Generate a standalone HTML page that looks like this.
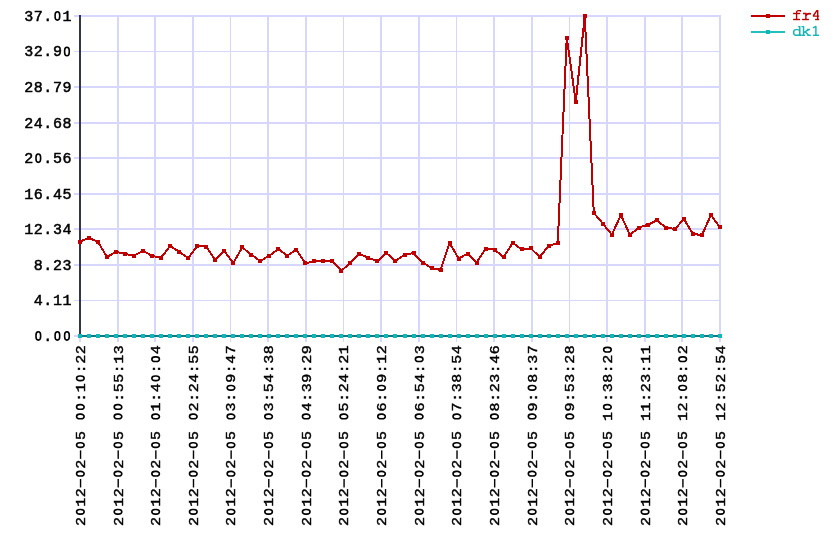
<!DOCTYPE html>
<html><head><meta charset="utf-8"><title>chart</title>
<style>
html,body{margin:0;padding:0;background:#fff;}
body{width:840px;height:560px;overflow:hidden;}
svg{display:block;}
text{font-family:"Liberation Mono",monospace;}
</style></head><body>
<div style="will-change:transform;width:840px;height:560px">
<svg width="840" height="560" viewBox="0 0 840 560">
<rect width="840" height="560" fill="#ffffff"/>
<g shape-rendering="crispEdges" fill="#d6d6ff">
<rect x="79" y="15" width="2" height="327"/>
<rect x="117" y="15" width="2" height="327"/>
<rect x="154" y="15" width="2" height="327"/>
<rect x="192" y="15" width="2" height="327"/>
<rect x="230" y="15" width="1" height="327"/>
<rect x="267" y="15" width="2" height="327"/>
<rect x="305" y="15" width="2" height="327"/>
<rect x="343" y="15" width="1" height="327"/>
<rect x="380" y="15" width="2" height="327"/>
<rect x="418" y="15" width="2" height="327"/>
<rect x="456" y="15" width="1" height="327"/>
<rect x="493" y="15" width="2" height="327"/>
<rect x="531" y="15" width="2" height="327"/>
<rect x="569" y="15" width="1" height="327"/>
<rect x="606" y="15" width="2" height="327"/>
<rect x="644" y="15" width="2" height="327"/>
<rect x="681" y="15" width="2" height="327"/>
<rect x="719" y="15" width="2" height="327"/>
<rect x="74" y="335" width="647" height="2"/>
<rect x="74" y="300" width="647" height="1"/>
<rect x="74" y="264" width="647" height="2"/>
<rect x="74" y="228" width="647" height="2"/>
<rect x="74" y="193" width="647" height="2"/>
<rect x="74" y="157" width="647" height="2"/>
<rect x="74" y="122" width="647" height="2"/>
<rect x="74" y="86" width="647" height="2"/>
<rect x="74" y="51" width="647" height="1"/>
<rect x="74" y="15" width="647" height="2"/>
</g>
<g shape-rendering="crispEdges" fill="#35354a">
<rect x="79" y="15" width="2" height="322"/>
<rect x="79" y="335" width="642" height="2"/>
</g>
<g font-size="15" fill="#000" stroke="#000" stroke-width="0.5">
<text transform="translate(0,340.85) scale(1,0.95)" x="33.81 43.35 52.89 62.43" y="0"> .  </text><rect x="36.01" y="331.75" width="4.60" height="8.40" rx="2.30" ry="3.30" fill="none" stroke="#000" stroke-width="1.6"/><rect x="55.09" y="331.75" width="4.60" height="8.40" rx="2.30" ry="3.30" fill="none" stroke="#000" stroke-width="1.6"/><rect x="64.63" y="331.75" width="4.60" height="8.40" rx="2.30" ry="3.30" fill="none" stroke="#000" stroke-width="1.6"/>
<text transform="translate(0,305.29) scale(1,0.95)" x="33.81 43.35 52.89 62.43" y="0">4.11</text>
<text transform="translate(0,269.74) scale(1,0.95)" x="33.81 43.35 52.89 62.43" y="0">8.23</text>
<text transform="translate(0,234.18) scale(1,0.95)" x="24.27 33.81 43.35 52.89 62.43" y="0">12.34</text>
<text transform="translate(0,198.63) scale(1,0.95)" x="24.27 33.81 43.35 52.89 62.43" y="0">16.45</text>
<text transform="translate(0,163.07) scale(1,0.95)" x="24.27 33.81 43.35 52.89 62.43" y="0">2 .56</text><rect x="36.01" y="153.97" width="4.60" height="8.40" rx="2.30" ry="3.30" fill="none" stroke="#000" stroke-width="1.6"/>
<text transform="translate(0,127.52) scale(1,0.95)" x="24.27 33.81 43.35 52.89 62.43" y="0">24.68</text>
<text transform="translate(0,91.96) scale(1,0.95)" x="24.27 33.81 43.35 52.89 62.43" y="0">28.79</text>
<text transform="translate(0,56.41) scale(1,0.95)" x="24.27 33.81 43.35 52.89 62.43" y="0">32.9 </text><rect x="64.63" y="47.31" width="4.60" height="8.40" rx="2.30" ry="3.30" fill="none" stroke="#000" stroke-width="1.6"/>
<text transform="translate(0,20.85) scale(1,0.95)" x="24.27 33.81 43.35 52.89 62.43" y="0">37. 1</text><rect x="55.09" y="11.75" width="4.60" height="8.40" rx="2.30" ry="3.30" fill="none" stroke="#000" stroke-width="1.6"/>
</g>
<g font-size="15" fill="#000" stroke="#000" stroke-width="0.5">
<g transform="translate(84.85,344.6) rotate(-90)"><text transform="scale(1,0.88)" x="-181.29 -171.75 -162.21 -152.67 -143.13 -133.59 -124.05 -114.51 -104.97 -95.43 -85.89 -76.35 -66.81 -57.27 -47.73 -38.19 -28.65 -19.11 -9.57" y="0">2 12  2  5   :1 :22</text><rect x="-169.55" y="-8.30" width="4.60" height="7.60" rx="2.30" ry="3.30" fill="none" stroke="#000" stroke-width="1.6"/><rect x="-142.88" y="-5.0" width="8.5" height="1.4" stroke="none"/><rect x="-131.39" y="-8.30" width="4.60" height="7.60" rx="2.30" ry="3.30" fill="none" stroke="#000" stroke-width="1.6"/><rect x="-114.26" y="-5.0" width="8.5" height="1.4" stroke="none"/><rect x="-102.77" y="-8.30" width="4.60" height="7.60" rx="2.30" ry="3.30" fill="none" stroke="#000" stroke-width="1.6"/><rect x="-74.15" y="-8.30" width="4.60" height="7.60" rx="2.30" ry="3.30" fill="none" stroke="#000" stroke-width="1.6"/><rect x="-64.61" y="-8.30" width="4.60" height="7.60" rx="2.30" ry="3.30" fill="none" stroke="#000" stroke-width="1.6"/><rect x="-35.99" y="-8.30" width="4.60" height="7.60" rx="2.30" ry="3.30" fill="none" stroke="#000" stroke-width="1.6"/></g>
<g transform="translate(122.50,344.6) rotate(-90)"><text transform="scale(1,0.88)" x="-181.29 -171.75 -162.21 -152.67 -143.13 -133.59 -124.05 -114.51 -104.97 -95.43 -85.89 -76.35 -66.81 -57.27 -47.73 -38.19 -28.65 -19.11 -9.57" y="0">2 12  2  5   :55:13</text><rect x="-169.55" y="-8.30" width="4.60" height="7.60" rx="2.30" ry="3.30" fill="none" stroke="#000" stroke-width="1.6"/><rect x="-142.88" y="-5.0" width="8.5" height="1.4" stroke="none"/><rect x="-131.39" y="-8.30" width="4.60" height="7.60" rx="2.30" ry="3.30" fill="none" stroke="#000" stroke-width="1.6"/><rect x="-114.26" y="-5.0" width="8.5" height="1.4" stroke="none"/><rect x="-102.77" y="-8.30" width="4.60" height="7.60" rx="2.30" ry="3.30" fill="none" stroke="#000" stroke-width="1.6"/><rect x="-74.15" y="-8.30" width="4.60" height="7.60" rx="2.30" ry="3.30" fill="none" stroke="#000" stroke-width="1.6"/><rect x="-64.61" y="-8.30" width="4.60" height="7.60" rx="2.30" ry="3.30" fill="none" stroke="#000" stroke-width="1.6"/></g>
<g transform="translate(160.14,344.6) rotate(-90)"><text transform="scale(1,0.88)" x="-181.29 -171.75 -162.21 -152.67 -143.13 -133.59 -124.05 -114.51 -104.97 -95.43 -85.89 -76.35 -66.81 -57.27 -47.73 -38.19 -28.65 -19.11 -9.57" y="0">2 12  2  5  1:4 : 4</text><rect x="-169.55" y="-8.30" width="4.60" height="7.60" rx="2.30" ry="3.30" fill="none" stroke="#000" stroke-width="1.6"/><rect x="-142.88" y="-5.0" width="8.5" height="1.4" stroke="none"/><rect x="-131.39" y="-8.30" width="4.60" height="7.60" rx="2.30" ry="3.30" fill="none" stroke="#000" stroke-width="1.6"/><rect x="-114.26" y="-5.0" width="8.5" height="1.4" stroke="none"/><rect x="-102.77" y="-8.30" width="4.60" height="7.60" rx="2.30" ry="3.30" fill="none" stroke="#000" stroke-width="1.6"/><rect x="-74.15" y="-8.30" width="4.60" height="7.60" rx="2.30" ry="3.30" fill="none" stroke="#000" stroke-width="1.6"/><rect x="-35.99" y="-8.30" width="4.60" height="7.60" rx="2.30" ry="3.30" fill="none" stroke="#000" stroke-width="1.6"/><rect x="-16.91" y="-8.30" width="4.60" height="7.60" rx="2.30" ry="3.30" fill="none" stroke="#000" stroke-width="1.6"/></g>
<g transform="translate(197.79,344.6) rotate(-90)"><text transform="scale(1,0.88)" x="-181.29 -171.75 -162.21 -152.67 -143.13 -133.59 -124.05 -114.51 -104.97 -95.43 -85.89 -76.35 -66.81 -57.27 -47.73 -38.19 -28.65 -19.11 -9.57" y="0">2 12  2  5  2:24:55</text><rect x="-169.55" y="-8.30" width="4.60" height="7.60" rx="2.30" ry="3.30" fill="none" stroke="#000" stroke-width="1.6"/><rect x="-142.88" y="-5.0" width="8.5" height="1.4" stroke="none"/><rect x="-131.39" y="-8.30" width="4.60" height="7.60" rx="2.30" ry="3.30" fill="none" stroke="#000" stroke-width="1.6"/><rect x="-114.26" y="-5.0" width="8.5" height="1.4" stroke="none"/><rect x="-102.77" y="-8.30" width="4.60" height="7.60" rx="2.30" ry="3.30" fill="none" stroke="#000" stroke-width="1.6"/><rect x="-74.15" y="-8.30" width="4.60" height="7.60" rx="2.30" ry="3.30" fill="none" stroke="#000" stroke-width="1.6"/></g>
<g transform="translate(235.44,344.6) rotate(-90)"><text transform="scale(1,0.88)" x="-181.29 -171.75 -162.21 -152.67 -143.13 -133.59 -124.05 -114.51 -104.97 -95.43 -85.89 -76.35 -66.81 -57.27 -47.73 -38.19 -28.65 -19.11 -9.57" y="0">2 12  2  5  3: 9:47</text><rect x="-169.55" y="-8.30" width="4.60" height="7.60" rx="2.30" ry="3.30" fill="none" stroke="#000" stroke-width="1.6"/><rect x="-142.88" y="-5.0" width="8.5" height="1.4" stroke="none"/><rect x="-131.39" y="-8.30" width="4.60" height="7.60" rx="2.30" ry="3.30" fill="none" stroke="#000" stroke-width="1.6"/><rect x="-114.26" y="-5.0" width="8.5" height="1.4" stroke="none"/><rect x="-102.77" y="-8.30" width="4.60" height="7.60" rx="2.30" ry="3.30" fill="none" stroke="#000" stroke-width="1.6"/><rect x="-74.15" y="-8.30" width="4.60" height="7.60" rx="2.30" ry="3.30" fill="none" stroke="#000" stroke-width="1.6"/><rect x="-45.53" y="-8.30" width="4.60" height="7.60" rx="2.30" ry="3.30" fill="none" stroke="#000" stroke-width="1.6"/></g>
<g transform="translate(273.09,344.6) rotate(-90)"><text transform="scale(1,0.88)" x="-181.29 -171.75 -162.21 -152.67 -143.13 -133.59 -124.05 -114.51 -104.97 -95.43 -85.89 -76.35 -66.81 -57.27 -47.73 -38.19 -28.65 -19.11 -9.57" y="0">2 12  2  5  3:54:38</text><rect x="-169.55" y="-8.30" width="4.60" height="7.60" rx="2.30" ry="3.30" fill="none" stroke="#000" stroke-width="1.6"/><rect x="-142.88" y="-5.0" width="8.5" height="1.4" stroke="none"/><rect x="-131.39" y="-8.30" width="4.60" height="7.60" rx="2.30" ry="3.30" fill="none" stroke="#000" stroke-width="1.6"/><rect x="-114.26" y="-5.0" width="8.5" height="1.4" stroke="none"/><rect x="-102.77" y="-8.30" width="4.60" height="7.60" rx="2.30" ry="3.30" fill="none" stroke="#000" stroke-width="1.6"/><rect x="-74.15" y="-8.30" width="4.60" height="7.60" rx="2.30" ry="3.30" fill="none" stroke="#000" stroke-width="1.6"/></g>
<g transform="translate(310.73,344.6) rotate(-90)"><text transform="scale(1,0.88)" x="-181.29 -171.75 -162.21 -152.67 -143.13 -133.59 -124.05 -114.51 -104.97 -95.43 -85.89 -76.35 -66.81 -57.27 -47.73 -38.19 -28.65 -19.11 -9.57" y="0">2 12  2  5  4:39:29</text><rect x="-169.55" y="-8.30" width="4.60" height="7.60" rx="2.30" ry="3.30" fill="none" stroke="#000" stroke-width="1.6"/><rect x="-142.88" y="-5.0" width="8.5" height="1.4" stroke="none"/><rect x="-131.39" y="-8.30" width="4.60" height="7.60" rx="2.30" ry="3.30" fill="none" stroke="#000" stroke-width="1.6"/><rect x="-114.26" y="-5.0" width="8.5" height="1.4" stroke="none"/><rect x="-102.77" y="-8.30" width="4.60" height="7.60" rx="2.30" ry="3.30" fill="none" stroke="#000" stroke-width="1.6"/><rect x="-74.15" y="-8.30" width="4.60" height="7.60" rx="2.30" ry="3.30" fill="none" stroke="#000" stroke-width="1.6"/></g>
<g transform="translate(348.38,344.6) rotate(-90)"><text transform="scale(1,0.88)" x="-181.29 -171.75 -162.21 -152.67 -143.13 -133.59 -124.05 -114.51 -104.97 -95.43 -85.89 -76.35 -66.81 -57.27 -47.73 -38.19 -28.65 -19.11 -9.57" y="0">2 12  2  5  5:24:21</text><rect x="-169.55" y="-8.30" width="4.60" height="7.60" rx="2.30" ry="3.30" fill="none" stroke="#000" stroke-width="1.6"/><rect x="-142.88" y="-5.0" width="8.5" height="1.4" stroke="none"/><rect x="-131.39" y="-8.30" width="4.60" height="7.60" rx="2.30" ry="3.30" fill="none" stroke="#000" stroke-width="1.6"/><rect x="-114.26" y="-5.0" width="8.5" height="1.4" stroke="none"/><rect x="-102.77" y="-8.30" width="4.60" height="7.60" rx="2.30" ry="3.30" fill="none" stroke="#000" stroke-width="1.6"/><rect x="-74.15" y="-8.30" width="4.60" height="7.60" rx="2.30" ry="3.30" fill="none" stroke="#000" stroke-width="1.6"/></g>
<g transform="translate(386.03,344.6) rotate(-90)"><text transform="scale(1,0.88)" x="-181.29 -171.75 -162.21 -152.67 -143.13 -133.59 -124.05 -114.51 -104.97 -95.43 -85.89 -76.35 -66.81 -57.27 -47.73 -38.19 -28.65 -19.11 -9.57" y="0">2 12  2  5  6: 9:12</text><rect x="-169.55" y="-8.30" width="4.60" height="7.60" rx="2.30" ry="3.30" fill="none" stroke="#000" stroke-width="1.6"/><rect x="-142.88" y="-5.0" width="8.5" height="1.4" stroke="none"/><rect x="-131.39" y="-8.30" width="4.60" height="7.60" rx="2.30" ry="3.30" fill="none" stroke="#000" stroke-width="1.6"/><rect x="-114.26" y="-5.0" width="8.5" height="1.4" stroke="none"/><rect x="-102.77" y="-8.30" width="4.60" height="7.60" rx="2.30" ry="3.30" fill="none" stroke="#000" stroke-width="1.6"/><rect x="-74.15" y="-8.30" width="4.60" height="7.60" rx="2.30" ry="3.30" fill="none" stroke="#000" stroke-width="1.6"/><rect x="-45.53" y="-8.30" width="4.60" height="7.60" rx="2.30" ry="3.30" fill="none" stroke="#000" stroke-width="1.6"/></g>
<g transform="translate(423.67,344.6) rotate(-90)"><text transform="scale(1,0.88)" x="-181.29 -171.75 -162.21 -152.67 -143.13 -133.59 -124.05 -114.51 -104.97 -95.43 -85.89 -76.35 -66.81 -57.27 -47.73 -38.19 -28.65 -19.11 -9.57" y="0">2 12  2  5  6:54: 3</text><rect x="-169.55" y="-8.30" width="4.60" height="7.60" rx="2.30" ry="3.30" fill="none" stroke="#000" stroke-width="1.6"/><rect x="-142.88" y="-5.0" width="8.5" height="1.4" stroke="none"/><rect x="-131.39" y="-8.30" width="4.60" height="7.60" rx="2.30" ry="3.30" fill="none" stroke="#000" stroke-width="1.6"/><rect x="-114.26" y="-5.0" width="8.5" height="1.4" stroke="none"/><rect x="-102.77" y="-8.30" width="4.60" height="7.60" rx="2.30" ry="3.30" fill="none" stroke="#000" stroke-width="1.6"/><rect x="-74.15" y="-8.30" width="4.60" height="7.60" rx="2.30" ry="3.30" fill="none" stroke="#000" stroke-width="1.6"/><rect x="-16.91" y="-8.30" width="4.60" height="7.60" rx="2.30" ry="3.30" fill="none" stroke="#000" stroke-width="1.6"/></g>
<g transform="translate(461.32,344.6) rotate(-90)"><text transform="scale(1,0.88)" x="-181.29 -171.75 -162.21 -152.67 -143.13 -133.59 -124.05 -114.51 -104.97 -95.43 -85.89 -76.35 -66.81 -57.27 -47.73 -38.19 -28.65 -19.11 -9.57" y="0">2 12  2  5  7:38:54</text><rect x="-169.55" y="-8.30" width="4.60" height="7.60" rx="2.30" ry="3.30" fill="none" stroke="#000" stroke-width="1.6"/><rect x="-142.88" y="-5.0" width="8.5" height="1.4" stroke="none"/><rect x="-131.39" y="-8.30" width="4.60" height="7.60" rx="2.30" ry="3.30" fill="none" stroke="#000" stroke-width="1.6"/><rect x="-114.26" y="-5.0" width="8.5" height="1.4" stroke="none"/><rect x="-102.77" y="-8.30" width="4.60" height="7.60" rx="2.30" ry="3.30" fill="none" stroke="#000" stroke-width="1.6"/><rect x="-74.15" y="-8.30" width="4.60" height="7.60" rx="2.30" ry="3.30" fill="none" stroke="#000" stroke-width="1.6"/></g>
<g transform="translate(498.97,344.6) rotate(-90)"><text transform="scale(1,0.88)" x="-181.29 -171.75 -162.21 -152.67 -143.13 -133.59 -124.05 -114.51 -104.97 -95.43 -85.89 -76.35 -66.81 -57.27 -47.73 -38.19 -28.65 -19.11 -9.57" y="0">2 12  2  5  8:23:46</text><rect x="-169.55" y="-8.30" width="4.60" height="7.60" rx="2.30" ry="3.30" fill="none" stroke="#000" stroke-width="1.6"/><rect x="-142.88" y="-5.0" width="8.5" height="1.4" stroke="none"/><rect x="-131.39" y="-8.30" width="4.60" height="7.60" rx="2.30" ry="3.30" fill="none" stroke="#000" stroke-width="1.6"/><rect x="-114.26" y="-5.0" width="8.5" height="1.4" stroke="none"/><rect x="-102.77" y="-8.30" width="4.60" height="7.60" rx="2.30" ry="3.30" fill="none" stroke="#000" stroke-width="1.6"/><rect x="-74.15" y="-8.30" width="4.60" height="7.60" rx="2.30" ry="3.30" fill="none" stroke="#000" stroke-width="1.6"/></g>
<g transform="translate(536.61,344.6) rotate(-90)"><text transform="scale(1,0.88)" x="-181.29 -171.75 -162.21 -152.67 -143.13 -133.59 -124.05 -114.51 -104.97 -95.43 -85.89 -76.35 -66.81 -57.27 -47.73 -38.19 -28.65 -19.11 -9.57" y="0">2 12  2  5  9: 8:37</text><rect x="-169.55" y="-8.30" width="4.60" height="7.60" rx="2.30" ry="3.30" fill="none" stroke="#000" stroke-width="1.6"/><rect x="-142.88" y="-5.0" width="8.5" height="1.4" stroke="none"/><rect x="-131.39" y="-8.30" width="4.60" height="7.60" rx="2.30" ry="3.30" fill="none" stroke="#000" stroke-width="1.6"/><rect x="-114.26" y="-5.0" width="8.5" height="1.4" stroke="none"/><rect x="-102.77" y="-8.30" width="4.60" height="7.60" rx="2.30" ry="3.30" fill="none" stroke="#000" stroke-width="1.6"/><rect x="-74.15" y="-8.30" width="4.60" height="7.60" rx="2.30" ry="3.30" fill="none" stroke="#000" stroke-width="1.6"/><rect x="-45.53" y="-8.30" width="4.60" height="7.60" rx="2.30" ry="3.30" fill="none" stroke="#000" stroke-width="1.6"/></g>
<g transform="translate(574.26,344.6) rotate(-90)"><text transform="scale(1,0.88)" x="-181.29 -171.75 -162.21 -152.67 -143.13 -133.59 -124.05 -114.51 -104.97 -95.43 -85.89 -76.35 -66.81 -57.27 -47.73 -38.19 -28.65 -19.11 -9.57" y="0">2 12  2  5  9:53:28</text><rect x="-169.55" y="-8.30" width="4.60" height="7.60" rx="2.30" ry="3.30" fill="none" stroke="#000" stroke-width="1.6"/><rect x="-142.88" y="-5.0" width="8.5" height="1.4" stroke="none"/><rect x="-131.39" y="-8.30" width="4.60" height="7.60" rx="2.30" ry="3.30" fill="none" stroke="#000" stroke-width="1.6"/><rect x="-114.26" y="-5.0" width="8.5" height="1.4" stroke="none"/><rect x="-102.77" y="-8.30" width="4.60" height="7.60" rx="2.30" ry="3.30" fill="none" stroke="#000" stroke-width="1.6"/><rect x="-74.15" y="-8.30" width="4.60" height="7.60" rx="2.30" ry="3.30" fill="none" stroke="#000" stroke-width="1.6"/></g>
<g transform="translate(611.91,344.6) rotate(-90)"><text transform="scale(1,0.88)" x="-181.29 -171.75 -162.21 -152.67 -143.13 -133.59 -124.05 -114.51 -104.97 -95.43 -85.89 -76.35 -66.81 -57.27 -47.73 -38.19 -28.65 -19.11 -9.57" y="0">2 12  2  5 1 :38:2 </text><rect x="-169.55" y="-8.30" width="4.60" height="7.60" rx="2.30" ry="3.30" fill="none" stroke="#000" stroke-width="1.6"/><rect x="-142.88" y="-5.0" width="8.5" height="1.4" stroke="none"/><rect x="-131.39" y="-8.30" width="4.60" height="7.60" rx="2.30" ry="3.30" fill="none" stroke="#000" stroke-width="1.6"/><rect x="-114.26" y="-5.0" width="8.5" height="1.4" stroke="none"/><rect x="-102.77" y="-8.30" width="4.60" height="7.60" rx="2.30" ry="3.30" fill="none" stroke="#000" stroke-width="1.6"/><rect x="-64.61" y="-8.30" width="4.60" height="7.60" rx="2.30" ry="3.30" fill="none" stroke="#000" stroke-width="1.6"/><rect x="-7.37" y="-8.30" width="4.60" height="7.60" rx="2.30" ry="3.30" fill="none" stroke="#000" stroke-width="1.6"/></g>
<g transform="translate(649.56,344.6) rotate(-90)"><text transform="scale(1,0.88)" x="-181.29 -171.75 -162.21 -152.67 -143.13 -133.59 -124.05 -114.51 -104.97 -95.43 -85.89 -76.35 -66.81 -57.27 -47.73 -38.19 -28.65 -19.11 -9.57" y="0">2 12  2  5 11:23:11</text><rect x="-169.55" y="-8.30" width="4.60" height="7.60" rx="2.30" ry="3.30" fill="none" stroke="#000" stroke-width="1.6"/><rect x="-142.88" y="-5.0" width="8.5" height="1.4" stroke="none"/><rect x="-131.39" y="-8.30" width="4.60" height="7.60" rx="2.30" ry="3.30" fill="none" stroke="#000" stroke-width="1.6"/><rect x="-114.26" y="-5.0" width="8.5" height="1.4" stroke="none"/><rect x="-102.77" y="-8.30" width="4.60" height="7.60" rx="2.30" ry="3.30" fill="none" stroke="#000" stroke-width="1.6"/></g>
<g transform="translate(687.20,344.6) rotate(-90)"><text transform="scale(1,0.88)" x="-181.29 -171.75 -162.21 -152.67 -143.13 -133.59 -124.05 -114.51 -104.97 -95.43 -85.89 -76.35 -66.81 -57.27 -47.73 -38.19 -28.65 -19.11 -9.57" y="0">2 12  2  5 12: 8: 2</text><rect x="-169.55" y="-8.30" width="4.60" height="7.60" rx="2.30" ry="3.30" fill="none" stroke="#000" stroke-width="1.6"/><rect x="-142.88" y="-5.0" width="8.5" height="1.4" stroke="none"/><rect x="-131.39" y="-8.30" width="4.60" height="7.60" rx="2.30" ry="3.30" fill="none" stroke="#000" stroke-width="1.6"/><rect x="-114.26" y="-5.0" width="8.5" height="1.4" stroke="none"/><rect x="-102.77" y="-8.30" width="4.60" height="7.60" rx="2.30" ry="3.30" fill="none" stroke="#000" stroke-width="1.6"/><rect x="-45.53" y="-8.30" width="4.60" height="7.60" rx="2.30" ry="3.30" fill="none" stroke="#000" stroke-width="1.6"/><rect x="-16.91" y="-8.30" width="4.60" height="7.60" rx="2.30" ry="3.30" fill="none" stroke="#000" stroke-width="1.6"/></g>
<g transform="translate(724.85,344.6) rotate(-90)"><text transform="scale(1,0.88)" x="-181.29 -171.75 -162.21 -152.67 -143.13 -133.59 -124.05 -114.51 -104.97 -95.43 -85.89 -76.35 -66.81 -57.27 -47.73 -38.19 -28.65 -19.11 -9.57" y="0">2 12  2  5 12:52:54</text><rect x="-169.55" y="-8.30" width="4.60" height="7.60" rx="2.30" ry="3.30" fill="none" stroke="#000" stroke-width="1.6"/><rect x="-142.88" y="-5.0" width="8.5" height="1.4" stroke="none"/><rect x="-131.39" y="-8.30" width="4.60" height="7.60" rx="2.30" ry="3.30" fill="none" stroke="#000" stroke-width="1.6"/><rect x="-114.26" y="-5.0" width="8.5" height="1.4" stroke="none"/><rect x="-102.77" y="-8.30" width="4.60" height="7.60" rx="2.30" ry="3.30" fill="none" stroke="#000" stroke-width="1.6"/></g>
</g>
<g shape-rendering="crispEdges">
<polyline points="80.00,241.70 89.01,237.70 98.03,242.10 107.04,257.10 116.06,251.70 125.07,253.90 134.08,255.70 143.10,250.70 152.11,256.00 161.13,257.60 170.14,246.00 179.15,251.70 188.17,258.00 197.18,246.00 206.20,246.60 215.21,260.00 224.23,250.70 233.24,263.10 242.25,247.40 251.27,254.60 260.28,261.00 269.30,255.70 278.31,249.00 287.32,255.70 296.34,249.70 305.35,263.40 314.37,261.10 323.38,261.10 332.39,261.10 341.41,270.70 350.42,262.90 359.44,253.90 368.45,257.90 377.46,261.00 386.48,253.10 395.49,261.00 404.51,254.80 413.52,253.00 422.54,262.60 431.55,267.90 440.56,270.00 449.58,242.90 458.59,258.60 467.61,253.60 476.62,262.60 485.63,248.60 494.65,249.70 503.66,257.10 512.68,242.90 521.69,249.30 530.70,248.30 539.72,256.90 548.73,245.70 557.75,243.30 566.76,37.70 575.77,101.70 584.79,16.00 593.80,212.90 602.82,223.60 611.83,234.70 620.85,215.00 629.86,234.80 638.87,227.60 647.89,224.70 656.90,220.40 665.92,227.60 674.93,229.00 683.94,219.00 692.96,234.00 701.97,235.00 710.99,215.00 720.00,227.40" fill="none" stroke="#c00000" stroke-width="2" stroke-linejoin="miter"/>
<g fill="#c00000">
<rect x="78" y="240" width="4" height="4"/><rect x="87" y="236" width="4" height="4"/><rect x="96" y="240" width="4" height="4"/><rect x="105" y="255" width="4" height="4"/><rect x="114" y="250" width="4" height="4"/><rect x="123" y="252" width="4" height="4"/><rect x="132" y="254" width="4" height="4"/><rect x="141" y="249" width="4" height="4"/><rect x="150" y="254" width="4" height="4"/><rect x="159" y="256" width="4" height="4"/><rect x="168" y="244" width="4" height="4"/><rect x="177" y="250" width="4" height="4"/><rect x="186" y="256" width="4" height="4"/><rect x="195" y="244" width="4" height="4"/><rect x="204" y="245" width="4" height="4"/><rect x="213" y="258" width="4" height="4"/><rect x="222" y="249" width="4" height="4"/><rect x="231" y="261" width="4" height="4"/><rect x="240" y="245" width="4" height="4"/><rect x="249" y="253" width="4" height="4"/><rect x="258" y="259" width="4" height="4"/><rect x="267" y="254" width="4" height="4"/><rect x="276" y="247" width="4" height="4"/><rect x="285" y="254" width="4" height="4"/><rect x="294" y="248" width="4" height="4"/><rect x="303" y="261" width="4" height="4"/><rect x="312" y="259" width="4" height="4"/><rect x="321" y="259" width="4" height="4"/><rect x="330" y="259" width="4" height="4"/><rect x="339" y="269" width="4" height="4"/><rect x="348" y="261" width="4" height="4"/><rect x="357" y="252" width="4" height="4"/><rect x="366" y="256" width="4" height="4"/><rect x="375" y="259" width="4" height="4"/><rect x="384" y="251" width="4" height="4"/><rect x="393" y="259" width="4" height="4"/><rect x="403" y="253" width="4" height="4"/><rect x="412" y="251" width="4" height="4"/><rect x="421" y="261" width="4" height="4"/><rect x="430" y="266" width="4" height="4"/><rect x="439" y="268" width="4" height="4"/><rect x="448" y="241" width="4" height="4"/><rect x="457" y="257" width="4" height="4"/><rect x="466" y="252" width="4" height="4"/><rect x="475" y="261" width="4" height="4"/><rect x="484" y="247" width="4" height="4"/><rect x="493" y="248" width="4" height="4"/><rect x="502" y="255" width="4" height="4"/><rect x="511" y="241" width="4" height="4"/><rect x="520" y="247" width="4" height="4"/><rect x="529" y="246" width="4" height="4"/><rect x="538" y="255" width="4" height="4"/><rect x="547" y="244" width="4" height="4"/><rect x="556" y="241" width="4" height="4"/><rect x="565" y="36" width="4" height="4"/><rect x="574" y="100" width="4" height="4"/><rect x="583" y="14" width="4" height="4"/><rect x="592" y="211" width="4" height="4"/><rect x="601" y="222" width="4" height="4"/><rect x="610" y="233" width="4" height="4"/><rect x="619" y="213" width="4" height="4"/><rect x="628" y="233" width="4" height="4"/><rect x="637" y="226" width="4" height="4"/><rect x="646" y="223" width="4" height="4"/><rect x="655" y="218" width="4" height="4"/><rect x="664" y="226" width="4" height="4"/><rect x="673" y="227" width="4" height="4"/><rect x="682" y="217" width="4" height="4"/><rect x="691" y="232" width="4" height="4"/><rect x="700" y="233" width="4" height="4"/><rect x="709" y="213" width="4" height="4"/><rect x="718" y="225" width="4" height="4"/>
</g>
<rect x="80" y="335" width="640" height="2" fill="#0a7a86"/>
<g fill="#12b8b8">
<rect x="78" y="334" width="4" height="4"/><rect x="87" y="334" width="4" height="4"/><rect x="96" y="334" width="4" height="4"/><rect x="105" y="334" width="4" height="4"/><rect x="114" y="334" width="4" height="4"/><rect x="123" y="334" width="4" height="4"/><rect x="132" y="334" width="4" height="4"/><rect x="141" y="334" width="4" height="4"/><rect x="150" y="334" width="4" height="4"/><rect x="159" y="334" width="4" height="4"/><rect x="168" y="334" width="4" height="4"/><rect x="177" y="334" width="4" height="4"/><rect x="186" y="334" width="4" height="4"/><rect x="195" y="334" width="4" height="4"/><rect x="204" y="334" width="4" height="4"/><rect x="213" y="334" width="4" height="4"/><rect x="222" y="334" width="4" height="4"/><rect x="231" y="334" width="4" height="4"/><rect x="240" y="334" width="4" height="4"/><rect x="249" y="334" width="4" height="4"/><rect x="258" y="334" width="4" height="4"/><rect x="267" y="334" width="4" height="4"/><rect x="276" y="334" width="4" height="4"/><rect x="285" y="334" width="4" height="4"/><rect x="294" y="334" width="4" height="4"/><rect x="303" y="334" width="4" height="4"/><rect x="312" y="334" width="4" height="4"/><rect x="321" y="334" width="4" height="4"/><rect x="330" y="334" width="4" height="4"/><rect x="339" y="334" width="4" height="4"/><rect x="348" y="334" width="4" height="4"/><rect x="357" y="334" width="4" height="4"/><rect x="366" y="334" width="4" height="4"/><rect x="375" y="334" width="4" height="4"/><rect x="384" y="334" width="4" height="4"/><rect x="393" y="334" width="4" height="4"/><rect x="403" y="334" width="4" height="4"/><rect x="412" y="334" width="4" height="4"/><rect x="421" y="334" width="4" height="4"/><rect x="430" y="334" width="4" height="4"/><rect x="439" y="334" width="4" height="4"/><rect x="448" y="334" width="4" height="4"/><rect x="457" y="334" width="4" height="4"/><rect x="466" y="334" width="4" height="4"/><rect x="475" y="334" width="4" height="4"/><rect x="484" y="334" width="4" height="4"/><rect x="493" y="334" width="4" height="4"/><rect x="502" y="334" width="4" height="4"/><rect x="511" y="334" width="4" height="4"/><rect x="520" y="334" width="4" height="4"/><rect x="529" y="334" width="4" height="4"/><rect x="538" y="334" width="4" height="4"/><rect x="547" y="334" width="4" height="4"/><rect x="556" y="334" width="4" height="4"/><rect x="565" y="334" width="4" height="4"/><rect x="574" y="334" width="4" height="4"/><rect x="583" y="334" width="4" height="4"/><rect x="592" y="334" width="4" height="4"/><rect x="601" y="334" width="4" height="4"/><rect x="610" y="334" width="4" height="4"/><rect x="619" y="334" width="4" height="4"/><rect x="628" y="334" width="4" height="4"/><rect x="637" y="334" width="4" height="4"/><rect x="646" y="334" width="4" height="4"/><rect x="655" y="334" width="4" height="4"/><rect x="664" y="334" width="4" height="4"/><rect x="673" y="334" width="4" height="4"/><rect x="682" y="334" width="4" height="4"/><rect x="691" y="334" width="4" height="4"/><rect x="700" y="334" width="4" height="4"/><rect x="709" y="334" width="4" height="4"/><rect x="718" y="334" width="4" height="4"/>
</g>
</g>
<g shape-rendering="crispEdges">
<rect x="751" y="15" width="34" height="2" fill="#c00000"/><rect x="766" y="14" width="4" height="4" fill="#c00000"/>
<rect x="751" y="31" width="34" height="2" fill="#20c0c0"/><rect x="766" y="30" width="4" height="4" fill="#12b8b8"/>
</g>
<g fill="none" stroke="#bc0000" stroke-width="1.4" stroke-linejoin="miter">
<path d="M796.6,19.5 V12.4 Q796.6,10.6 798.4,10.6 H800.4 V11.7"/><path d="M793.1,13.5 H800.2"/><path d="M793.1,19.5 H800.1"/>
<path d="M803,13.5 H805.9 V19.5"/><path d="M805.9,15.8 C806.5,14.0 808.2,13.3 810.9,13.9" stroke-width="1.6"/><path d="M802.1,19.5 H808.9"/>
<path d="M817.7,10.6 H816.9 L813.6,15.3 V16.1 H819.1" stroke-width="1.45"/><path d="M817.7,10 V19.5"/><path d="M815.1,19.5 H819.1"/>
</g>
<g fill="none" stroke="#14b6b6" stroke-width="1.45" stroke-linejoin="miter">
<path d="M799.7,31.6 Q799.7,29.6 797.5,29.6 H796 Q793.7,29.6 793.7,32 V33 Q793.7,35.3 796,35.3 H797.5 Q799.7,35.3 799.7,33.4"/><path d="M798.1,26.6 H799.75 V35.3 H801.6"/>
<path d="M801.5,26.6 H803.55 V35.3"/><path d="M801.5,35.3 H805"/><path d="M803.6,32.7 L808.7,29.6"/><path d="M806.9,29.5 H810"/><path d="M805.2,31.8 L808.6,35.3"/><path d="M807.3,35.3 H810.8"/>
<path d="M813,27.9 L815.9,26.3 V35.3" stroke-linejoin="bevel"/><path d="M813,35.3 H819.1"/>
</g>
</svg>
</div>
</body></html>
